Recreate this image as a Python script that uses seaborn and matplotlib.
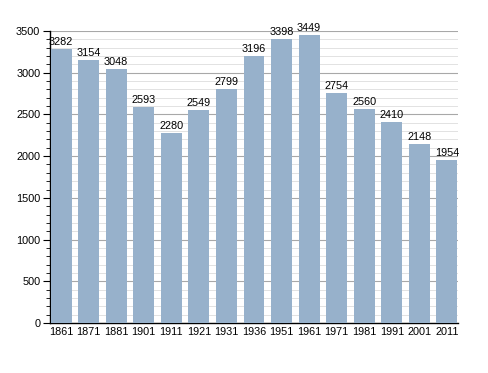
import pandas as pd
import matplotlib.pyplot as plt
import seaborn as sns
from matplotlib.ticker import MultipleLocator

# Population by census year
years = ['1861', '1871', '1881', '1901', '1911', '1921', '1931', '1936',
         '1951', '1961', '1971', '1981', '1991', '2001', '2011']
population = [3282, 3154, 3048, 2593, 2280, 2549, 2799, 3196,
              3398, 3449, 2754, 2560, 2410, 2148, 1954]

df = pd.DataFrame({'year': years, 'population': population})

sns.set_style('white')
plt.rcParams['font.family'] = ['Liberation Sans', 'DejaVu Sans']
plt.rcParams['text.color'] = 'black'
plt.rcParams['xtick.color'] = 'black'
plt.rcParams['ytick.color'] = 'black'

fig = plt.figure(figsize=(4.88, 3.73), dpi=100)
ax = fig.add_axes([0.1025, 0.134, 0.836, 0.783])

sns.barplot(data=df, x='year', y='population', color='#97b1cb',
            saturation=1, width=0.76, ax=ax, zorder=3,
            edgecolor='none', linewidth=0)

for i, v in enumerate(population):
    ax.text(i, v + 25, str(v), ha='center', va='bottom', fontsize=7.8,
            color='black', zorder=4)

ax.set_xlim(-0.4, len(years) - 0.6)
ax.set_ylim(0, 3500)
ax.yaxis.set_major_locator(MultipleLocator(500))
ax.yaxis.set_minor_locator(MultipleLocator(100))
ax.grid(axis='y', which='major', color='#a8a8a8', linewidth=0.8, zorder=0)
ax.grid(axis='y', which='minor', color='#e2e2e2', linewidth=0.7, zorder=0)
ax.set_axisbelow(True)

for s in ['top', 'right']:
    ax.spines[s].set_visible(False)
ax.spines['left'].set_color('black')
ax.spines['bottom'].set_color('black')
ax.spines['left'].set_linewidth(1)
ax.spines['bottom'].set_linewidth(1)

ax.tick_params(axis='y', which='major', length=5, width=0.8, color='black',
               labelsize=7.8, labelcolor='black', left=True, pad=2)
ax.tick_params(axis='y', which='minor', length=3, width=0.6, color='black', left=True)
ax.tick_params(axis='x', length=0, labelsize=7.8, labelcolor='black', pad=3)
ax.set_xlabel('')
ax.set_ylabel('')

plt.savefig('out.png', dpi=100)
